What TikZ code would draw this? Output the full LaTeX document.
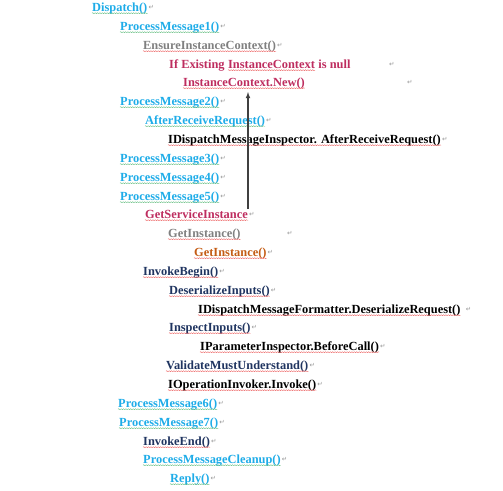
\documentclass[tikz,border=0pt]{standalone}
\usepackage{fontspec}
\setmainfont{Liberation Serif}
\newfontfamily\markfont{DejaVu Sans}
\usetikzlibrary{decorations.pathmorphing}
\definecolor{wdcyan}{RGB}{30,172,232}
\definecolor{wdgray}{RGB}{128,128,128}
\definecolor{wdred}{RGB}{190,45,95}
\definecolor{wdorange}{RGB}{196,92,20}
\definecolor{wdnavy}{RGB}{31,52,96}
\definecolor{wdmark}{RGB}{150,150,150}
\definecolor{wdspell}{RGB}{235,90,90}
\definecolor{wdgrammar}{RGB}{90,185,120}

\begin{document}
\begin{tikzpicture}[x=1pt, y=-1pt,
    every node/.style={inner sep=0pt, anchor=base west,
      font=\fontsize{12.4}{14}\selectfont\bfseries},
    msglink/.style={text=wdcyan},
    msggray/.style={text=wdgray},
    msgred/.style={text=wdred},
    msgorange/.style={text=wdorange},
    msgnavy/.style={text=wdnavy},
    msgblack/.style={text=black},
    retmark/.style={text=wdmark, font=\fontsize{6.5}{7}\selectfont\markfont},
    spell/.style={wdspell, line width=0.35pt, decorate,
      decoration={snake, amplitude=0.5pt, segment length=2.4pt}},
    grammar/.style={spell, wdgrammar}]
                \useasboundingbox (0,0) rectangle (503,490);

                % Call tree
                \node[msglink] (dispatch) at (92,11) {Dispatch()};
                \node[msglink] (pm1) at (120,30) {ProcessMessage1()};
                \node[msggray] (ensure) at (143,49) {EnsureInstanceContext()};
                \node[msgred] (ifa) at (169,68) {If Existing};
                \node[msgred] (ifb) at ([xshift=3.1pt]ifa.base east) {InstanceContext};
                \node[msgred] (ifc) at ([xshift=3.1pt]ifb.base east) {is null};
                \node[msgred] (icnew) at (183,86) {InstanceContext.New()};
                \node[msglink] (pm2) at (120,105) {ProcessMessage2()};
                \node[msglink] (afterrr) at (145,124) {AfterReceiveRequest()};
                \node[msgblack] (inspector) at (168,143) {IDispatchMessageInspector. AfterReceiveRequest()};
                \node[msglink] (pm3) at (120,162) {ProcessMessage3()};
                \node[msglink] (pm4) at (120,181) {ProcessMessage4()};
                \node[msglink] (pm5) at (120,200) {ProcessMessage5()};
                \node[msgred] (gsi) at (145,218) {GetServiceInstance};
                \node[msggray] (getinsta) at (168,237) {GetInstance()};
                \node[msgorange] (getinstb) at (194,256) {GetInstance()};
                \node[msgnavy] (invbegin) at (143,275) {InvokeBegin()};
                \node[msgnavy] (deser) at (169,294) {DeserializeInputs()};
                \node[msgblack] (formatter) at (198,313) {IDispatchMessageFormatter.DeserializeRequest()};
                \node[msgnavy] (inspect) at (169,331) {InspectInputs()};
                \node[msgblack] (paraminsp) at (200,350) {IParameterInspector.BeforeCall()};
                \node[msgnavy] (validate) at (166,369) {ValidateMustUnderstand()};
                \node[msgblack] (invoke) at (168,388) {IOperationInvoker.Invoke()};
                \node[msglink] (pm6) at (118,407) {ProcessMessage6()};
                \node[msglink] (pm7) at (119,426) {ProcessMessage7()};
                \node[msgnavy] (invend) at (143,445) {InvokeEnd()};
                \node[msglink] (cleanup) at (143,463) {ProcessMessageCleanup()};
                \node[msglink] (reply) at (170,482) {Reply()};

                % Paragraph marks
                \foreach \n in {dispatch, pm1, ensure, pm2, afterrr, inspector, pm3, pm4, pm5,
                                gsi, getinstb, invbegin, deser, inspect, paraminsp, validate,
                                invoke, pm6, pm7, invend, cleanup, reply}
                  \node[retmark] (ret-\n) at ([xshift=0.8pt, yshift=1.5pt]\n.base east) {↵};
                \node[retmark] (ret-ifc) at (389,66.5) {↵};
                \node[retmark] (ret-icnew) at (407,84.5) {↵};
                \node[retmark] (ret-getinsta) at (287,235.5) {↵};
                \node[retmark] (ret-formatter) at ([xshift=5pt, yshift=1.5pt]formatter.base east) {↵};

                % Wavy underlines
                \foreach \n in {ensure, ifb, icnew, inspector, gsi, getinsta, getinstb, invbegin,
                                deser, formatter, inspect, paraminsp, validate, invoke, invend}
                  \draw[spell] ([yshift=-2.2pt]\n.base west) -- ([yshift=-2.2pt]\n.base east);
                \foreach \n in {dispatch, pm1, pm2, afterrr, pm3, pm4, pm5, pm6, pm7, cleanup, reply}
                  \draw[grammar] ([yshift=-2.2pt]\n.base west) -- ([yshift=-2.2pt]\n.base east);

                % Arrow back to the new context
                \coordinate (tip) at (248,92);
                \draw[-latex, line width=1.1pt, black!75] (gsi.north east -| tip) -- (tip);
\end{tikzpicture}
\end{document}
